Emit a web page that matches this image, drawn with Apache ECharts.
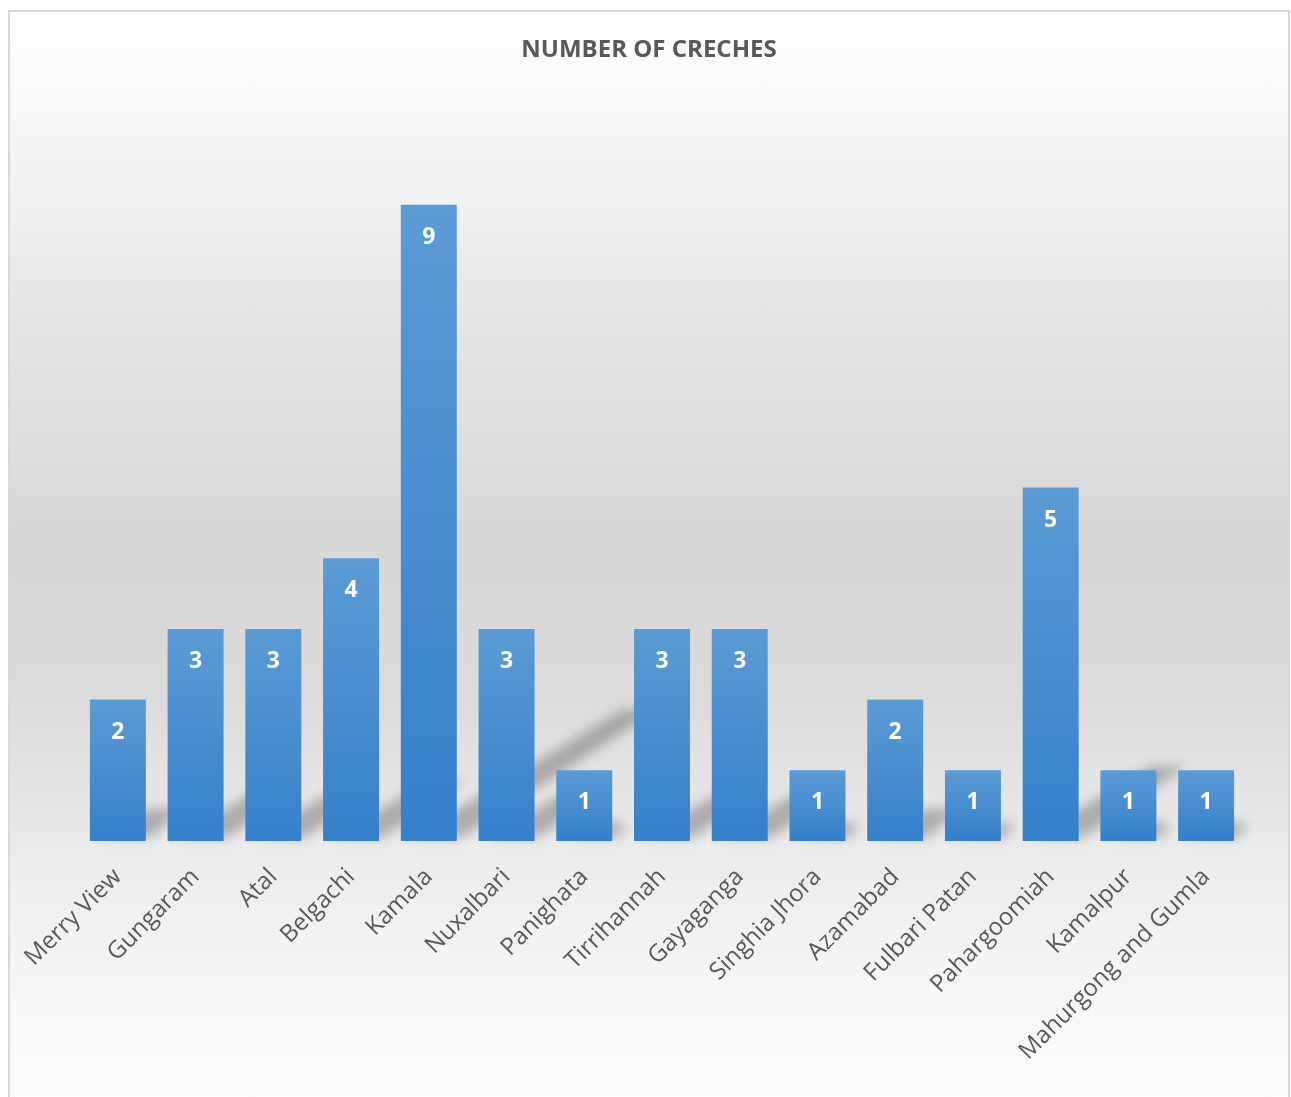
<!DOCTYPE html>
<html>
<head>
<meta charset="utf-8">
<script src="https://cdn.jsdelivr.net/npm/echarts@6/dist/echarts.min.js"></script>
<style>
  html, body { margin: 0; padding: 0; background: #ffffff; width: 1291px; height: 1097px; overflow: hidden; }
  #frame { position: absolute; left: 8px; top: 10px; width: 1278px; height: 1100px;
           border: 2px solid #d9d9d9;
           background: linear-gradient(to bottom, #ffffff 0%, #f9f9f9 8%, #e6e6e6 28%, #d7d7d7 48%, #dbdbdb 62%, #ebebeb 76%, #f7f7f7 89%, #fdfdfd 100%); }
  #chart { position: absolute; left: 0; top: 0; width: 1291px; height: 1097px; }
</style>
</head>
<body>
<div id="frame"></div>
<div id="chart"></div>
<script>
const categories = ["Merry View", "Gungaram", "Atal", "Belgachi", "Kamala", "Nuxalbari", "Panighata",
  "Tirrihannah", "Gayaganga", "Singhia Jhora", "Azamabad", "Fulbari Patan", "Pahargoomiah",
  "Kamalpur", "Mahurgong and Gumla"];
const creches = [2, 3, 3, 4, 9, 3, 1, 3, 3, 1, 2, 1, 5, 1, 1];
const chartTitle = "NUMBER OF CRECHES";

const chart = echarts.init(document.getElementById('chart'), null, { renderer: 'canvas' });

const shadowData = categories.map((c, i) => [i, creches[i]]);
const OFF = 3000;

chart.setOption({
  backgroundColor: 'transparent',
  animation: false,
  title: {
    text: chartTitle,
    left: 644, top: 33, textAlign: 'center',
    textStyle: { fontFamily: 'Open Sans', fontWeight: 'bold', fontSize: 24, color: '#595959' }
  },
  grid: { left: 79, right: 46, top: 134, bottom: 256, containLabel: false },
  xAxis: {
    type: 'category',
    data: categories,
    axisLine: { show: false },
    axisTick: { show: false },
    axisLabel: { rotate: 45, margin: 32, interval: 0, fontFamily: 'Open Sans', fontSize: 24, color: '#595959' }
  },
  yAxis: { type: 'value', min: 0, max: 10, show: false, splitLine: { show: false } },
  series: [
    {
      type: 'custom',
      z: 1,
      silent: true,
      clip: false,
      data: shadowData,
      renderItem: function (params, api) {
        const base = api.coord([api.value(0), 0]);
        const top = api.coord([api.value(0), api.value(1)]);
        const bw = api.size([1, 0])[0] * 0.72;
        const h = base[1] - top[1];
        const dx = h * 0.33, dy = h * 0.2;
        const x0 = base[0] - bw / 2 - OFF, x1 = base[0] + bw / 2 - OFF, yb = base[1] - 4;
        return {
          type: 'polygon',
          shape: { points: [[x0 + 10, yb], [x1 + 6, yb], [x1 + dx - 10, yb - dy], [x0 + dx + 12, yb - dy]] },
          style: { fill: '#000', shadowBlur: 12, shadowOffsetX: OFF, shadowOffsetY: 0, shadowColor: 'rgba(0,0,0,0.26)' }
        };
      }
    },
    {
      type: 'bar',
      z: 3,
      data: creches,
      barCategoryGap: '28%',
      itemStyle: {
        color: new echarts.graphic.LinearGradient(0, 0, 0, 1, [
          { offset: 0, color: '#5b9bd5' },
          { offset: 1, color: '#3580cb' }
        ])
      },
      label: {
        show: true, position: 'insideTop', distance: 21,
        fontFamily: 'Open Sans', fontWeight: 'bold', fontSize: 23, color: '#ffffff'
      }
    }
  ]
});
</script>
</body>
</html>
